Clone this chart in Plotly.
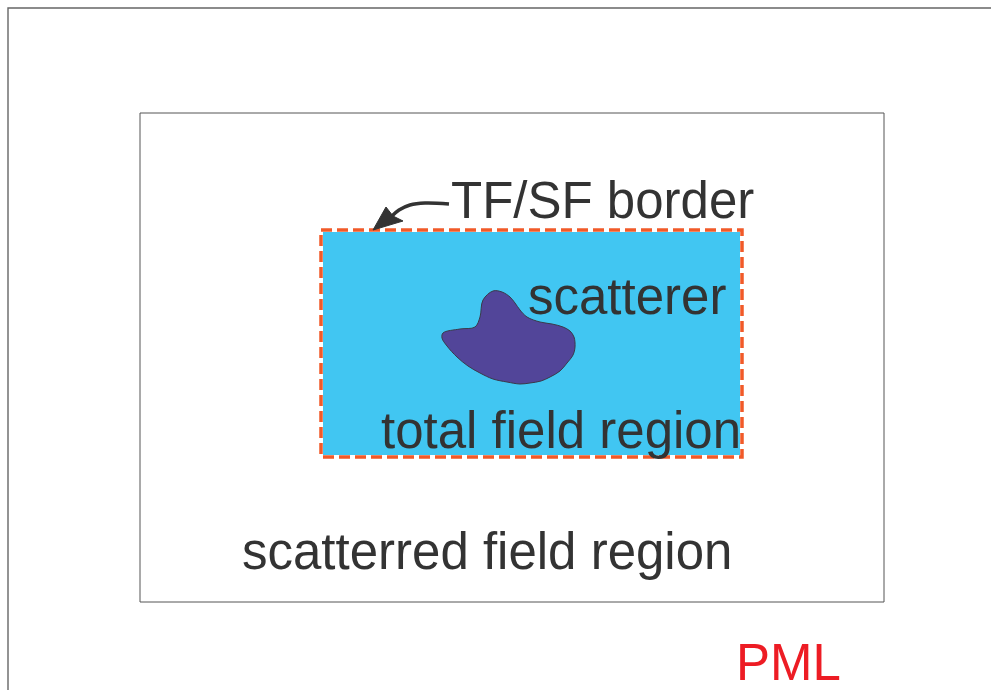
"""
TF/SF diagram: total field region inside scattered field region, surrounded by PML.
"""

import plotly.graph_objects as go

# canvas units (pixels of the reference drawing, y grows downward)
canvas_w = 991
canvas_h = 690

# outer PML boundary (runs off the right/bottom edge)
pml_x = [8, 8, 1010, 1010, 8]
pml_y = [710, 8, 8, 710, 710]

# scattered field region box
sf_x = [140, 884, 884, 140, 140]
sf_y = [113, 113, 602, 602, 113]

# total field region box (TF/SF border)
tf_x = [321, 742, 742, 321, 321]
tf_y = [230, 230, 457, 457, 230]

# scatterer outline
blob_x = [493, 483, 480, 475, 460, 443, 442, 447, 457, 468, 480, 493, 507, 520, 530,
          541, 550, 560, 567, 573, 575, 574, 570, 563, 552, 540, 527, 520, 515, 510, 502, 493]
blob_y = [291, 300, 317, 327, 329, 333, 338, 346, 357, 366, 373, 379, 382, 384, 383,
          381, 377, 371, 363, 355, 347, 337, 331, 327, 324, 322, 317, 310, 303, 297, 292, 291]

# arrow from label to border
arrow_x = [449, 425, 410, 399, 392]
arrow_y = [204, 203, 205, 210, 216]
head_x = [373, 386, 393, 403, 373]
head_y = [230, 207, 216, 221, 230]

# labels: text, left x, centre y, colour
labels = [
    ("TF/SF border", 449, 200, "#333333"),
    ("scatterer", 526, 296, "#333333"),
    ("total field region", 379, 430, "#333333"),
    ("scatterred field region", 240, 551, "#333333"),
    ("PML", 734, 662, "#ED1C24"),
]

fig = go.Figure()

fig.add_trace(go.Scatter(x=pml_x, y=pml_y, mode="lines",
                         line=dict(color="#666666", width=1.4), hoverinfo="skip"))
fig.add_trace(go.Scatter(x=sf_x, y=sf_y, mode="lines",
                         line=dict(color="#555555", width=1), hoverinfo="skip"))

# cyan region with white underlay and orange dashed border
fig.add_trace(go.Scatter(x=tf_x, y=tf_y, mode="lines", fill="toself",
                         fillcolor="#41C6F2", line=dict(color="white", width=4),
                         hoverinfo="skip"))
fig.add_trace(go.Scatter(x=tf_x, y=tf_y, mode="lines",
                         line=dict(color="#F15A29", width=3.5, dash="11px,5px"),
                         hoverinfo="skip"))

fig.add_trace(go.Scatter(x=blob_x, y=blob_y, mode="lines", fill="toself",
                         fillcolor="#524599", line=dict(color="#3a3a4a", width=1, shape="spline"),
                         hoverinfo="skip"))

fig.add_trace(go.Scatter(x=arrow_x, y=arrow_y, mode="lines",
                         line=dict(color="#333333", width=3.5, shape="spline"),
                         hoverinfo="skip"))
fig.add_trace(go.Scatter(x=head_x, y=head_y, mode="lines", fill="toself",
                         fillcolor="#333333", line=dict(color="#333333", width=1),
                         hoverinfo="skip"))

for text, lx, cy, color in labels:
    fig.add_annotation(x=lx, y=cy, text=text, showarrow=False,
                       xanchor="left", yanchor="middle",
                       font=dict(family="Liberation Sans, Arial", size=51, color=color))

fig.update_layout(
    width=canvas_w, height=canvas_h,
    margin=dict(l=0, r=0, t=0, b=0),
    paper_bgcolor="white", plot_bgcolor="white",
    showlegend=False,
    xaxis=dict(range=[0, canvas_w], visible=False, fixedrange=True),
    yaxis=dict(range=[canvas_h, 0], visible=False, fixedrange=True),
)

# drop the default page margin so the figure sits at the window corner
fig.write_html("out.html", config={"displayModeBar": False},
               post_script="document.body.style.margin='0';")
